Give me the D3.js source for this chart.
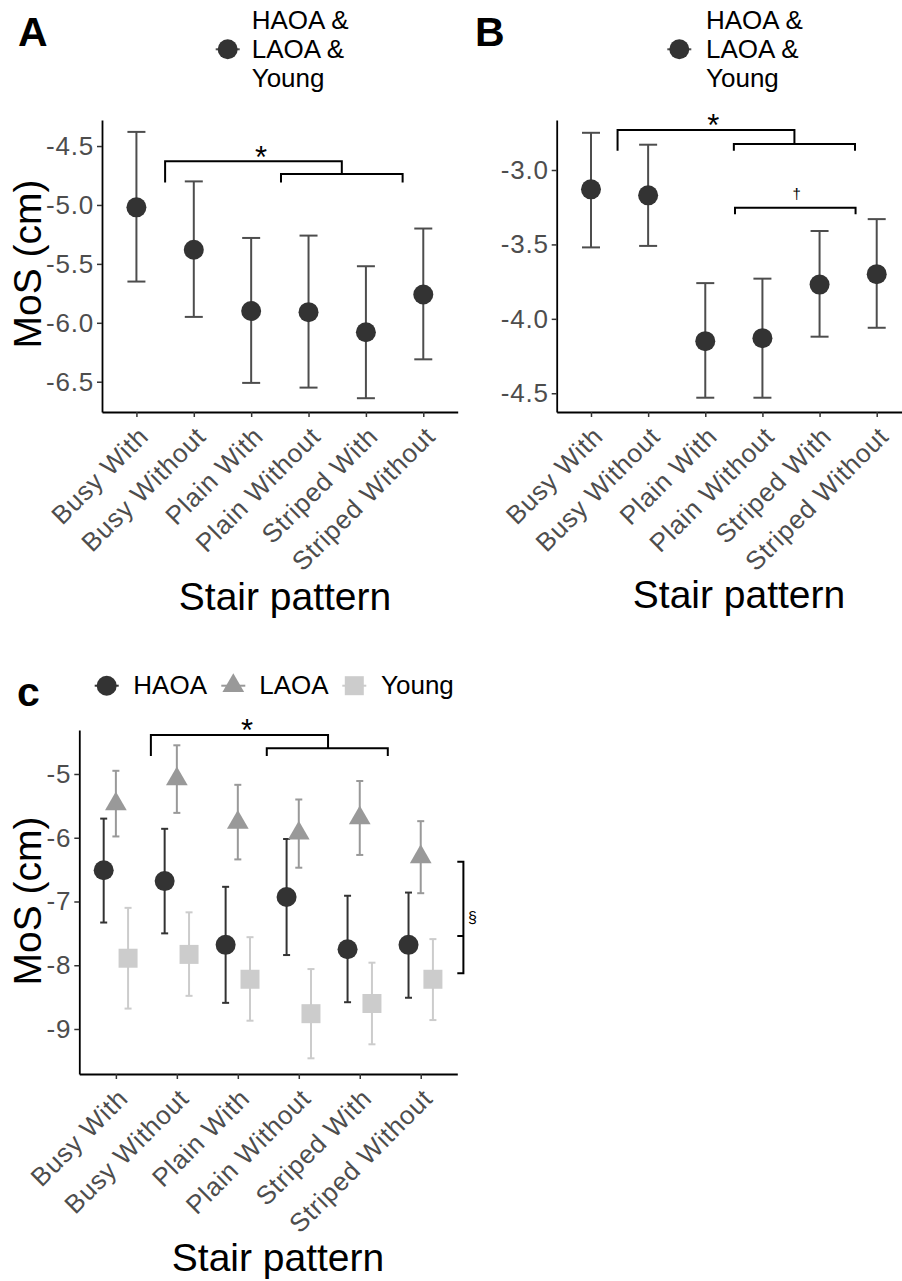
<!DOCTYPE html>
<html>
<head>
<script src="https://cdn.jsdelivr.net/npm/d3@7"></script>
<style>
    body { margin: 0; background: #ffffff; }
    text { font-family: "Liberation Sans", Arial, sans-serif; }
</style>
</head>
<body>
<div id="chart"></div>
<script>
const categories = ["Busy With", "Busy Without", "Plain With", "Plain Without", "Striped With", "Striped Without"];

// panel A: all groups pooled
const meanA = [-5.02, -5.38, -5.90, -5.91, -6.08, -5.76];
const lowA  = [-5.65, -5.95, -6.51, -6.55, -6.64, -6.31];
const highA = [-4.38, -4.80, -5.28, -5.26, -5.52, -5.20];
const ticksA = [-4.5, -5.0, -5.5, -6.0, -6.5];

// panel B: all groups pooled
const meanB = [-3.13, -3.17, -4.15, -4.13, -3.77, -3.70];
const lowB  = [-3.52, -3.51, -4.53, -4.53, -4.12, -4.06];
const highB = [-2.75, -2.83, -3.76, -3.73, -3.41, -3.33];
const ticksB = [-3.0, -3.5, -4.0, -4.5];

// panel C: by group
const groups = ["HAOA", "LAOA", "Young"];
const meanHAOA = [-6.51, -6.68, -7.68, -6.93, -7.75, -7.68];
const lowHAOA  = [-7.33, -7.50, -8.59, -7.84, -8.58, -8.51];
const highHAOA = [-5.70, -5.86, -6.77, -6.02, -6.91, -6.86];
const meanLAOA = [-5.47, -5.08, -5.76, -5.93, -5.69, -6.30];
const lowLAOA  = [-5.98, -5.61, -6.34, -6.47, -6.27, -6.87];
const highLAOA = [-4.95, -4.55, -5.17, -5.40, -5.11, -5.74];
const meanYoung = [-7.89, -7.83, -8.22, -8.76, -8.60, -8.22];
const lowYoung  = [-8.68, -8.48, -8.87, -9.46, -9.24, -8.86];
const highYoung = [-7.10, -7.17, -7.56, -8.06, -7.96, -7.59];
const ticksC = [-5, -6, -7, -8, -9];

const pooledLabel = ["HAOA &", "LAOA &", "Young"];

const locale = d3.formatLocale({decimal: ".", thousands: ",", grouping: [3], currency: ["", ""], minus: "-"});

const svg = d3.select("#chart").append("svg")
    .attr("width", 902).attr("height", 1281);

function panel(p) {
    const g = svg.append("g");
    const x = d3.scalePoint().domain(categories).range([p.left, p.right]).padding(0.6);
    const y = d3.scaleLinear().domain(p.domain).range([p.bottom, p.top]);
    const xi = i => x(categories[0]) + i * x.step();

    const ya = g.append("g").attr("transform", `translate(${p.left},0)`)
        .call(d3.axisLeft(y).tickValues(p.ticks).tickFormat(locale.format(p.fmt)).tickSize(5).tickSizeOuter(0).tickPadding(3));
    ya.selectAll(".tick text").attr("font-size", 26).attr("letter-spacing", 0.8)
        .attr("fill", "#4d4d4d").attr("font-family", "Liberation Sans");
    ya.selectAll(".tick line").attr("stroke", "#333").attr("stroke-width", 1.5);
    ya.select(".domain").attr("stroke", "#000").attr("stroke-width", 1.8);

    const xa = g.append("g").attr("transform", `translate(0,${p.bottom})`)
        .call(d3.axisBottom(x).tickSize(5).tickSizeOuter(0));
    xa.selectAll(".tick text")
        .attr("font-size", 26).attr("letter-spacing", 0.8)
        .attr("fill", "#4d4d4d").attr("font-family", "Liberation Sans")
        .attr("text-anchor", "end").attr("x", 0).attr("y", 0).attr("dy", "0.71em")
        .attr("transform", "translate(0,13) rotate(-45)");
    xa.selectAll(".tick line").attr("stroke", "#333").attr("stroke-width", 1.5);
    xa.select(".domain").attr("stroke", "#000").attr("stroke-width", 1.8);

    // error bars then points
    p.series.forEach(s => {
        const off = s.dodge * x.step();
        const eb = g.append("g").attr("stroke", s.line).attr("stroke-width", 2).attr("fill", "none");
        categories.forEach((c, i) => {
            const cx = x(c) + off;
            eb.append("line").attr("x1", cx).attr("x2", cx).attr("y1", y(s.low[i])).attr("y2", y(s.high[i]));
            eb.append("line").attr("x1", cx - p.cap).attr("x2", cx + p.cap).attr("y1", y(s.low[i])).attr("y2", y(s.low[i]));
            eb.append("line").attr("x1", cx - p.cap).attr("x2", cx + p.cap).attr("y1", y(s.high[i])).attr("y2", y(s.high[i]));
        });
    });
    p.series.forEach(s => {
        const off = s.dodge * x.step();
        g.append("g").selectAll("path").data(s.mean).join("path")
            .attr("transform", (d, i) => `translate(${x(categories[i]) + off},${y(d)})`)
            .attr("d", d3.symbol().type(s.shape).size(s.size))
            .attr("fill", s.fill);
    });

    // significance brackets
    p.brackets.forEach(b => {
        const path = d3.path();
        path.moveTo(xi(b.x1), y(b.yl));
        path.lineTo(xi(b.x1), y(b.y));
        path.lineTo(xi(b.x2), y(b.y));
        path.lineTo(xi(b.x2), y(b.yr));
        g.append("path").attr("d", path.toString()).attr("fill", "none")
            .attr("stroke", "#000").attr("stroke-width", 2);
    });
    p.notes.forEach(n => {
        g.append("text").attr("x", xi(n.x)).attr("y", y(n.y)).attr("dy", n.dy)
            .attr("text-anchor", "middle").attr("font-size", n.size)
            .attr("font-family", n.font).attr("fill", "#000").text(n.label);
    });
    return {x, y, xi, g};
}

const darkLine = "#4d4d4d";

panel({
    left: 102, right: 457.7, top: 120, bottom: 412,
    domain: [-6.757, -4.279], ticks: ticksA, fmt: ".1f", cap: 9,
    series: [{mean: meanA, low: lowA, high: highA, dodge: 0, shape: d3.symbolCircle, size: 314, fill: "#333333", line: darkLine}],
    brackets: [
        {x1: 0.50, x2: 3.58, y: -4.63, yl: -4.81, yr: -4.738},
        {x1: 2.52, x2: 4.64, y: -4.738, yl: -4.81, yr: -4.81}
    ],
    notes: [{x: 2.17, y: -4.538, label: "*", size: 31, dy: "0.57em", font: "Liberation Sans"}]
});

panel({
    left: 556.7, right: 911, top: 120, bottom: 412,
    domain: [-4.626, -2.664], ticks: ticksB, fmt: ".1f", cap: 9,
    series: [{mean: meanB, low: lowB, high: highB, dodge: 0, shape: d3.symbolCircle, size: 314, fill: "#333333", line: darkLine}],
    brackets: [
        {x1: 0.465, x2: 3.56, y: -2.731, yl: -2.87, yr: -2.825},
        {x1: 2.50, x2: 4.62, y: -2.825, yl: -2.87, yr: -2.87},
        {x1: 2.52, x2: 4.63, y: -3.253, yl: -3.298, yr: -3.298}
    ],
    notes: [
        {x: 2.14, y: -2.651, label: "*", size: 31, dy: "0.57em", font: "Liberation Sans"},
        {x: 3.60, y: -3.168, label: "\u2020", size: 15, dy: "0.28em", font: "Liberation Serif"}
    ]
});

const pc = panel({
    left: 79.3, right: 457.3, top: 730, bottom: 1074,
    domain: [-9.706, -4.31], ticks: ticksC, fmt: "d", cap: 3.5,
    series: [
        {mean: meanHAOA, low: lowHAOA, high: highHAOA, dodge: -0.2, shape: d3.symbolCircle, size: 314, fill: "#333333", line: "#333333"},
        {mean: meanLAOA, low: lowLAOA, high: highLAOA, dodge: 0, shape: d3.symbolTriangle, size: 204, fill: "#999999", line: "#999999"},
        {mean: meanYoung, low: lowYoung, high: highYoung, dodge: 0.2, shape: d3.symbolSquare, size: 361, fill: "#cccccc", line: "#cccccc"}
    ],
    brackets: [
        {x1: 0.574, x2: 3.48, y: -4.388, yl: -4.718, yr: -4.597},
        {x1: 2.475, x2: 4.46, y: -4.597, yl: -4.718, yr: -4.718}
    ],
    notes: [
        {x: 2.15, y: -4.205, label: "*", size: 31, dy: "0.57em", font: "Liberation Sans"},
        {x: 5.85, y: -7.27, label: "\u00a7", size: 16, dy: "0.27em", font: "Liberation Serif"}
    ]
});

// group-difference bracket on the right of panel C
const sect = d3.path();
sect.moveTo(pc.xi(5.60), pc.y(-6.376));
sect.lineTo(pc.xi(5.70), pc.y(-6.376));
sect.lineTo(pc.xi(5.70), pc.y(-8.126));
sect.lineTo(pc.xi(5.60), pc.y(-8.126));
sect.moveTo(pc.xi(5.60), pc.y(-7.54));
sect.lineTo(pc.xi(5.70), pc.y(-7.54));
pc.g.append("path").attr("d", sect.toString()).attr("fill", "none").attr("stroke", "#000").attr("stroke-width", 2);

// titles
function title(txt, x, y, rot, size, weight) {
    svg.append("text").attr("transform", `translate(${x},${y})${rot ? " rotate(-90)" : ""}`)
        .attr("text-anchor", rot === null ? "start" : "middle")
        .attr("font-size", size).attr("font-weight", weight || "normal")
        .attr("fill", "#000").text(txt);
}
title("Stair pattern", 285, 610, false, 39);
title("Stair pattern", 739, 608, false, 39);
title("Stair pattern", 278, 1271, false, 39);
title("MoS (cm)", 41, 264, true, 39);
title("MoS (cm)", 41, 901, true, 39);
title("A", 18, 46, null, 41, "bold");
title("B", 475, 46, null, 41, "bold");
title("c", 17, 706, null, 41, "bold");

// legends for A and B
[[227.7, 251.7], [679.3, 706]].forEach(([kx, tx]) => {
    const lg = svg.append("g");
    lg.append("line").attr("x1", kx - 12).attr("x2", kx + 12).attr("y1", 49.3).attr("y2", 49.3)
        .attr("stroke", darkLine).attr("stroke-width", 2);
    lg.append("circle").attr("cx", kx).attr("cy", 49.3).attr("r", 10).attr("fill", "#333333");
    lg.selectAll("text").data(pooledLabel).join("text")
        .attr("x", tx).attr("y", (d, i) => 29.3 + i * 28.7)
        .attr("font-size", 26).attr("fill", "#000").text(d => d);
});

// legend for C
const legC = [
    {key: 106.7, tx: 133.3, shape: d3.symbolCircle, size: 314, fill: "#333333"},
    {key: 233.3, tx: 259.3, shape: d3.symbolTriangle, size: 204, fill: "#999999"},
    {key: 354.3, tx: 381, shape: d3.symbolSquare, size: 361, fill: "#cccccc"}
];
legC.forEach((k, i) => {
    svg.append("line").attr("x1", k.key - 12).attr("x2", k.key + 12).attr("y1", 685.7).attr("y2", 685.7)
        .attr("stroke", k.fill).attr("stroke-width", 2);
    svg.append("path").attr("transform", `translate(${k.key},685.7)`)
        .attr("d", d3.symbol().type(k.shape).size(k.size)).attr("fill", k.fill);
    svg.append("text").attr("x", k.tx).attr("y", 694).attr("font-size", 26).attr("fill", "#000").text(groups[i]);
});
</script>
</body>
</html>
